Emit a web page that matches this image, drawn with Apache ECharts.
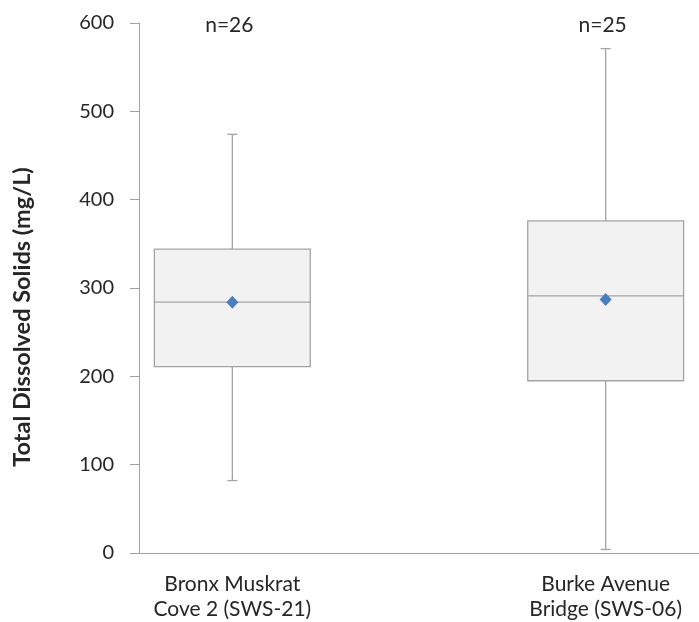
<!DOCTYPE html>
<html>
<head>
<meta charset="utf-8">
<script src="https://cdn.jsdelivr.net/npm/echarts@6/dist/echarts.min.js"></script>
<style>
html,body{margin:0;padding:0;background:#fff;}
#chart{width:699px;height:622px;}
</style>
</head>
<body>
<div id="chart"></div>
<script>
// ---- data ----
var categories = ['Bronx Muskrat\nCove 2 (SWS-21)', 'Burke Avenue\nBridge (SWS-06)'];
var whiskerMin = [82, 4];
var q1 = [211, 195];
var median = [284, 291];
var q3 = [344, 376];
var whiskerMax = [474, 571];
var mean = [284, 287];
var nLabels = ['n=26', 'n=25'];
var yTicks = [0, 100, 200, 300, 400, 500, 600];

// axis categories with an empty spacer slot between the two stations
var xAxisData = [categories[0], '', categories[1]];

var boxData = categories.map(function (c, i) {
  return [xAxisData.indexOf(c), whiskerMin[i], q1[i], median[i], q3[i], whiskerMax[i], mean[i], i];
});

var FONT = 'Lato';
var GRAY = '#a3a3a3';
var TEXT = '#262626';

var chart = echarts.init(document.getElementById('chart'), null, {renderer: 'canvas'});

chart.setOption({
  animation: false,
  backgroundColor: '#ffffff',
  grid: {left: 139, top: 23, height: 530, width: 568.5, containLabel: false},
  xAxis: {
    type: 'category',
    data: xAxisData,
    axisLine: {show: true, lineStyle: {color: GRAY, width: 1}},
    axisTick: {show: false},
    axisLabel: {
      interval: 0,
      margin: 19,
      color: TEXT,
      fontFamily: FONT,
      fontSize: 21,
      lineHeight: 25,
      align: 'center'
    },
    splitLine: {show: false}
  },
  yAxis: {
    type: 'value',
    min: yTicks[0],
    max: yTicks[yTicks.length - 1],
    interval: 100,
    name: 'Total Dissolved Solids (mg/L)',
    nameLocation: 'middle',
    nameGap: 105,
    nameTextStyle: {fontFamily: FONT, fontSize: 23.5, fontWeight: 'bold', color: TEXT, padding: [0, 58, 0, 0]},
    axisLine: {show: true, lineStyle: {color: GRAY, width: 1}},
    axisTick: {show: true, inside: false, length: 9, lineStyle: {color: GRAY}},
    axisLabel: {margin: 25, color: TEXT, fontFamily: FONT, fontSize: 20},
    splitLine: {show: false}
  },
  series: [{
    type: 'custom',
    clip: false,
    data: boxData,
    encode: {x: 0, y: [1, 2, 3, 4, 5, 6]},
    renderItem: function (params, api) {
      var xi = api.value(0);
      var band = api.size([1, 0])[0];
      var bw = band * 0.835;
      var cap = 10;
      var pMin = api.coord([xi, api.value(1)]);
      var pQ1 = api.coord([xi, api.value(2)]);
      var pMed = api.coord([xi, api.value(3)]);
      var pQ3 = api.coord([xi, api.value(4)]);
      var pMax = api.coord([xi, api.value(5)]);
      var pMean = api.coord([xi, api.value(6)]);
      var pTop = api.coord([xi, yTicks[yTicks.length - 1]]);
      var cx = pMin[0];
      var lineStyle = {stroke: GRAY, lineWidth: 1.3, fill: null};
      var idx = api.value(7);
      return {
        type: 'group',
        children: [
          {type: 'line', shape: {x1: cx, y1: pMax[1], x2: cx, y2: pQ3[1]}, style: lineStyle},
          {type: 'line', shape: {x1: cx, y1: pQ1[1], x2: cx, y2: pMin[1]}, style: lineStyle},
          {type: 'line', shape: {x1: cx - cap / 2, y1: pMax[1], x2: cx + cap / 2, y2: pMax[1]}, style: lineStyle},
          {type: 'line', shape: {x1: cx - cap / 2, y1: pMin[1], x2: cx + cap / 2, y2: pMin[1]}, style: lineStyle},
          {type: 'rect', shape: {x: cx - bw / 2, y: pQ3[1], width: bw, height: pQ1[1] - pQ3[1]},
            style: {fill: '#f2f2f2', stroke: GRAY, lineWidth: 1.3}},
          {type: 'line', shape: {x1: cx - bw / 2, y1: pMed[1], x2: cx + bw / 2, y2: pMed[1]}, style: lineStyle},
          {type: 'polygon', shape: {points: [[cx, pMean[1] - 6.5], [cx + 6, pMean[1]], [cx, pMean[1] + 6.5], [cx - 6, pMean[1]]]},
            style: {fill: '#4a7ebf', stroke: null}},
          {type: 'text', x: cx - 3, y: pTop[1] + 2,
            style: {text: nLabels[idx], fontFamily: FONT, fontSize: 21, fill: TEXT,
              textAlign: 'center', textVerticalAlign: 'middle'}}
        ]
      };
    }
  }]
});
</script>
</body>
</html>
